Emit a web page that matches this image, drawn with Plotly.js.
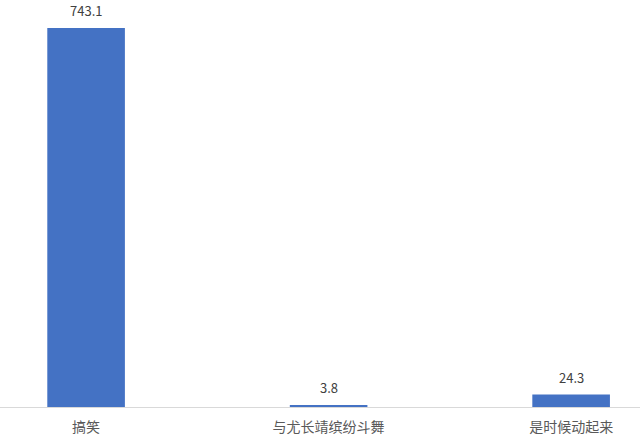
<!DOCTYPE html>
<html>
<head>
<meta charset="utf-8">
<script src="https://cdn.plot.ly/plotly-3.0.1.min.js"></script>
<style>
  html, body { margin: 0; padding: 0; background: #ffffff; }
  #chart { width: 640px; height: 440px; }
</style>
</head>
<body>
<div id="chart"></div>
<script>
  // values
  var categories = ["搞笑", "与尤长靖缤纷斗舞", "是时候动起来"];
  var values = [743.1, 3.8, 24.3];
  var valueLabels = ["743.1", "3.8", "24.3"];

  var blue = "#4472c4";
  var font = "Noto Sans CJK SC, Noto Sans, sans-serif";

  // value labels sit a little higher than plotly's "outside" text, so use annotations
  var labels = categories.map(function (c, i) {
    return {
      x: c, y: values[i], xref: "x", yref: "y",
      text: valueLabels[i], showarrow: false,
      yanchor: "bottom", yshift: 6,
      font: { family: font, size: 13, color: "#404040" }
    };
  });

  Plotly.newPlot(
    "chart",
    [{
      type: "bar",
      x: categories,
      y: values,
      width: 0.32,
      marker: { color: blue },
      hoverinfo: "skip"
    }],
    {
      width: 640,
      height: 440,
      margin: { t: 0, r: 0, b: 33, l: 0 },
      paper_bgcolor: "#ffffff",
      plot_bgcolor: "#ffffff",
      showlegend: false,
      bargap: 0.68,
      font: { family: font, color: "#595959" },
      annotations: labels,
      xaxis: {
        type: "category",
        range: [-0.355, 2.284],
        showline: true,
        linecolor: "#d9d9d9",
        linewidth: 1,
        ticks: "",
        ticklabelstandoff: 7,
        tickfont: { family: font, size: 14, color: "#595959" },
        fixedrange: true
      },
      yaxis: {
        range: [0, 798],
        showgrid: false,
        zeroline: false,
        showticklabels: false,
        fixedrange: true
      }
    },
    { displayModeBar: false, staticPlot: true }
  );
</script>
</body>
</html>
